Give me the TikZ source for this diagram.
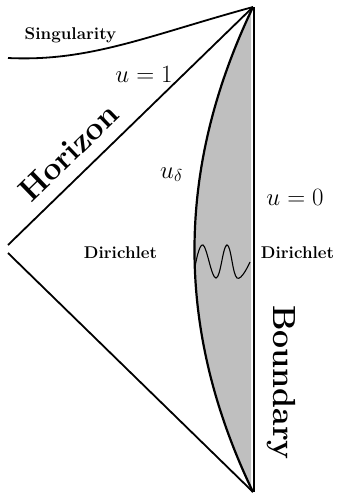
\documentclass[tikz,border=0pt]{standalone}
\usepackage{amsmath, amssymb}
\usepackage{tikz}
\usetikzlibrary{calc,positioning}

\tikzset{
  wall/.style={line width=1.8pt},
  lab/.style={font=\fontsize{17}{20}\selectfont\bfseries},
  biglab/.style={font=\fontsize{32}{36}\selectfont\bfseries},
  mlab/.style={font=\fontsize{24}{28}\selectfont}
}

\begin{document}
\begin{tikzpicture}[x=1pt,y=-1pt]
\useasboundingbox (0,0) rectangle (340,498);

% corners of the diagram
\coordinate (top) at (253,7);
\coordinate (bot) at (253,492);
\coordinate (hz) at (8,245);
\coordinate (pz) at (8,253);
\coordinate (sg) at (8,58);

% shaded strip between cut-off and boundary
\fill[gray!50] (top) .. controls (175,170) and (175,330) .. (bot) -- (251,492) -- (251,7) -- cycle;
\draw[line width=2.2pt] (top) .. controls (175,170) and (175,330) .. (bot);

% wiggle in the strip
\draw[line width=1.1pt] plot[smooth,tension=0.7] coordinates
  {(195,267) (203,245) (216,278) (227,245) (237,278) (250,262)};

% boundary
\draw[wall] (254,7) -- (254,492);

% horizons
\draw[wall] (top) -- (hz);
\draw[wall] (pz) -- (bot);

% singularity
\draw[wall] (sg) .. controls (90,62) and (150,35) .. (top);

% labels
\node[lab,anchor=base] (sing) at (70.5,39) {Singularity};
\node[mlab,anchor=base] (u1) at (144,82) {$u=1$};
\node[biglab,anchor=base,rotate=44] (hor) at (76,160) {Horizon};
\node[mlab,anchor=base west,inner sep=0pt] (ud) at (160,178) {$u_\delta$};
\node[mlab,anchor=base] (u0) at (295,205) {$u=0$};
\node[lab,anchor=base] (dl) at (120.5,258) {Dirichlet};
\node[lab,anchor=base] (dr) at (297.5,258) {Dirichlet};
\node[biglab,anchor=base,rotate=-90] (bnd) at (273,382.5) {Boundary};
\end{tikzpicture}
\end{document}
